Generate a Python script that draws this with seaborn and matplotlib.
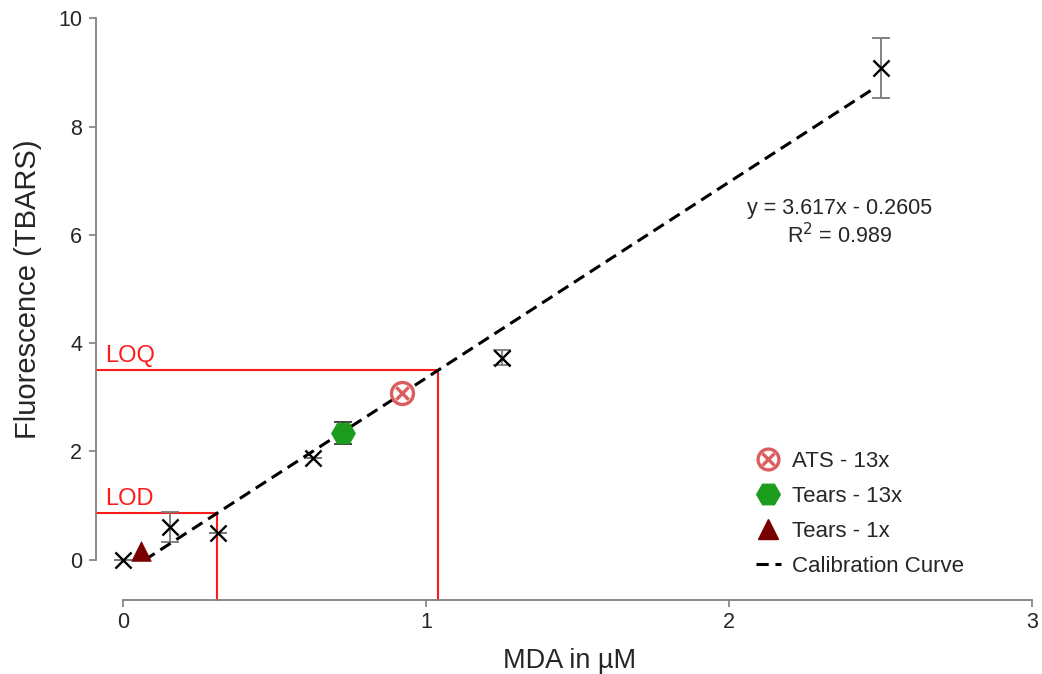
import matplotlib
matplotlib.use("Agg")
import matplotlib.pyplot as plt
from matplotlib.lines import Line2D
import seaborn as sns
import pandas as pd

# Calibration standards (MDA concentration vs TBARS fluorescence)
std_conc = [0.0, 0.156, 0.3125, 0.625, 1.25, 2.5]
std_signal = [0.0, 0.60, 0.50, 1.88, 3.73, 9.08]
std_err = [0.0, 0.28, 0.0, 0.0, 0.14, 0.55]

# Linear fit of the standards
slope = 3.617
intercept = -0.2605
r_squared = 0.989
fit_span = [0.07, 2.48]

# Samples
ats13_x, ats13_y, ats13_err = [0.92], [3.08], [0.04]
tears13_x, tears13_y, tears13_err = [0.726], [2.34], [0.21]
tears1_x, tears1_y = [0.06], [0.17]

# Detection / quantification limits (signal level)
lod_signal = 0.86
loq_signal = 3.5

x_ticks = [0, 1, 2, 3]
y_ticks = [0, 2, 4, 6, 8, 10]

sns.set_style("ticks")
plt.rcParams["font.family"] = ["Liberation Sans", "DejaVu Sans"]

fig = plt.figure(figsize=(10.42, 6.74), dpi=100)
ax = fig.add_axes([0.0921, 0.110, 0.8983, 0.863])
xmin, xmax = -0.09, 3.0
ymin, ymax = -0.74, 10.0
ax.set_xlim(xmin, xmax)
ax.set_ylim(ymin, ymax)

red = "#ff1a1a"
# LOD / LOQ guide lines
for sig, lab in [(lod_signal, "LOD"), (loq_signal, "LOQ")]:
    xc = (sig - intercept) / slope
    ax.plot([xmin, xc, xc], [sig, sig, ymin], color=red, lw=1.5, zorder=1,
            clip_on=False)
    ax.text(-0.06, sig + 0.16, lab, color=red, fontsize=17, va="baseline",
            ha="left")

# Calibration curve
dash = (0, (4, 2.2))
fit_df = pd.DataFrame({"x": fit_span,
                       "y": [slope * v + intercept for v in fit_span]})
sns.lineplot(data=fit_df, x="x", y="y", ax=ax, color="black", lw=2.2,
             linestyle=dash, zorder=3, label="_fit")

# Standards with error bars
ax.errorbar(std_conc, std_signal, yerr=std_err, fmt="none", ecolor="#7a7a7a",
            elinewidth=1.3, capsize=6.5, capthick=1.3, zorder=2)
std_df = pd.DataFrame({"x": std_conc, "y": std_signal})
sns.scatterplot(data=std_df, x="x", y="y", ax=ax, marker="x", color="black",
                s=135, linewidth=1.7, zorder=4, clip_on=False, legend=False)

# Samples
green_col = "#1c9c1c"
ats_col = "#dc5d5d"
tears1_col = "#7a0000"
ax.errorbar(tears13_x, tears13_y, yerr=tears13_err, fmt="none",
            ecolor="#333333", elinewidth=1.3, capsize=6.5, capthick=1.3,
            zorder=4)
sns.scatterplot(x=tears13_x, y=tears13_y, ax=ax, marker="H", color=green_col,
                s=300, edgecolor=green_col, linewidth=0.5, zorder=5)
sns.scatterplot(x=ats13_x, y=ats13_y, ax=ax, marker="o", facecolor="white",
                edgecolor=ats_col, s=250, linewidth=2.4, zorder=5)
sns.scatterplot(x=ats13_x, y=ats13_y, ax=ax, marker="x", color=ats_col,
                s=80, linewidth=2.4, zorder=6)
sns.scatterplot(x=tears1_x, y=tears1_y, ax=ax, marker="^", color=tears1_col,
                s=200, edgecolor=tears1_col, linewidth=0.5, zorder=5)

# Fit equation
ax.text(2.366, 6.22, f"y = {slope}x - {abs(intercept)}\nR$^2$ = {r_squared}",
        ha="center", va="center", fontsize=15.5, multialignment="center",
        linespacing=1.2)

# Legend
h_ats = (Line2D([], [], ls="none", marker="o", ms=15, mfc="white",
                mec=ats_col, mew=2.4),
         Line2D([], [], ls="none", marker="x", ms=8, mec=ats_col, mew=2.4))
h_t13 = Line2D([], [], ls="none", marker="H", ms=17, mfc=green_col,
               mec=green_col)
h_t1 = Line2D([], [], ls="none", marker="^", ms=14, mfc=tears1_col,
              mec=tears1_col)
h_fit = Line2D([], [], color="black", lw=2.2, ls=dash)
ax.legend([h_ats, h_t13, h_t1, h_fit],
          ["ATS - 13x", "Tears - 13x", "Tears - 1x", "Calibration Curve"],
          loc="upper left", bbox_to_anchor=(0.6934, 0.2747), frameon=False,
          borderpad=0, fontsize=16, handlelength=1.1, handletextpad=0.5,
          labelspacing=0.63)

# Axes styling
ax.set_xticks(x_ticks)
ax.set_yticks(y_ticks)
ax.tick_params(axis="both", labelsize=15.5, length=5, width=1.2,
               color="#808080", direction="out")
ax.tick_params(axis="y", pad=5)
ax.tick_params(axis="x", pad=4)
for side in ["top", "right"]:
    ax.spines[side].set_visible(False)
ax.spines["left"].set_bounds(0, 10)
ax.spines["bottom"].set_bounds(0, 3)
for side in ["left", "bottom"]:
    ax.spines[side].set_color("#808080")
    ax.spines[side].set_linewidth(1.3)
ax.set_xlabel("MDA in µM", fontsize=19.5)
ax.set_ylabel("Fluorescence (TBARS)", fontsize=21)
ax.xaxis.set_label_coords(0.506, -0.082)
ax.yaxis.set_label_coords(-0.058, 0.5345)

fig.savefig("out.png", dpi=100)
